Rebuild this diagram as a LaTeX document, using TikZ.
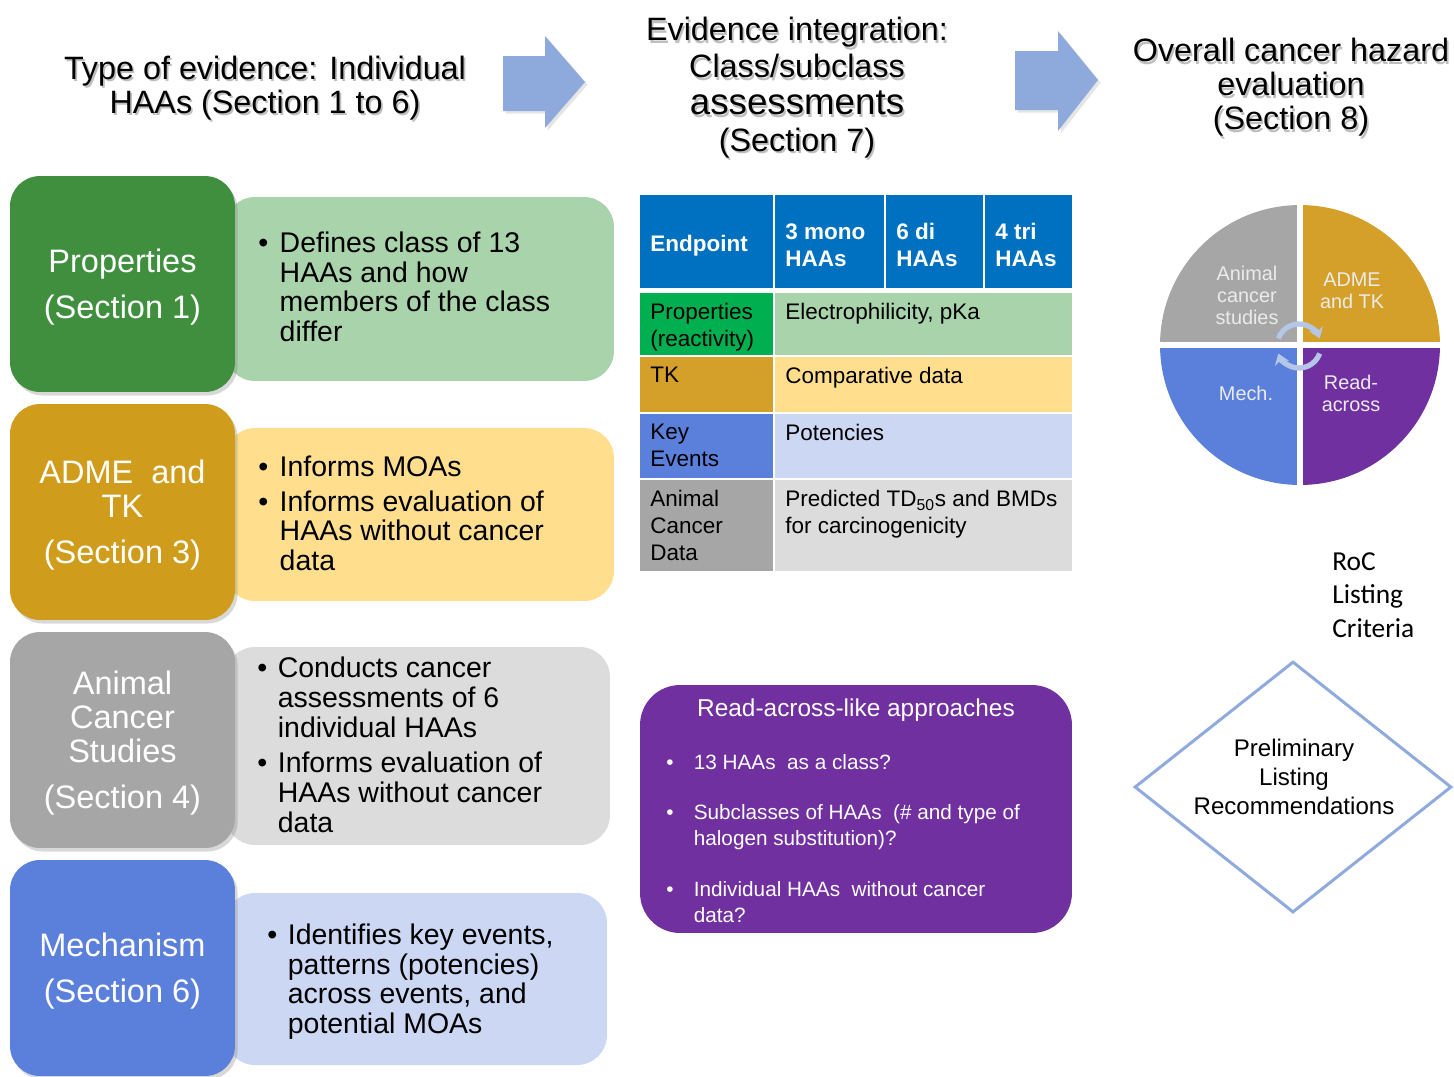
\documentclass[tikz,border=0pt]{standalone}
\usepackage{fontspec}
\setmainfont{Liberation Sans}
\newfontfamily\calibrifont{Carlito}
\usepackage{tikz}
\usetikzlibrary{positioning,shapes.geometric,shadows,arrows.meta}
\definecolor{propdark}{HTML}{3F8F3F}
\definecolor{proplight}{HTML}{A9D3AB}
\definecolor{admedark}{HTML}{D09C1C}
\definecolor{admelight}{HTML}{FFDF8E}
\definecolor{anidark}{HTML}{A6A6A6}
\definecolor{anilight}{HTML}{DCDCDC}
\definecolor{mechdark}{HTML}{5B80DC}
\definecolor{mechlight}{HTML}{CCD7F3}
\definecolor{hdrblue}{HTML}{0070C0}
\definecolor{tabgreen}{HTML}{00B050}
\definecolor{tabgold}{HTML}{D4A02A}
\definecolor{raviolet}{HTML}{7030A0}
\definecolor{arrblue}{HTML}{8EA9DB}
\definecolor{cycblue}{HTML}{B4C7E7}
\definecolor{diablue}{HTML}{8FAADC}
\newcommand{\shd}[1]{\makebox[0pt][l]{\hspace{1pt}\raisebox{-1.4pt}{\textcolor{black!25}{#1}}}#1}
\newcommand{\bul}{\textbullet}

\begin{document}
\begin{tikzpicture}[x=0.02cm, y=-0.02cm,
  darkbox/.style={rounded corners=0.6cm, minimum width=4.5cm, minimum height=4.32cm, drop shadow={shadow xshift=1.5pt, shadow yshift=-2pt, opacity=0.3}},
  darklabel/.style={text=white, align=center, font=\fontsize{18.5}{19.3}\selectfont},
  lightbox/.style={rounded corners=0.6cm},
  bultext/.style={anchor=west, inner sep=0pt, font=\fontsize{16.2}{17}\selectfont},
  heading/.style={align=center, font=\fontsize{18.4}{19.3}\selectfont},
  hdr/.style={anchor=north west, fill=hdrblue, minimum height=1.86cm, inner sep=0pt},
  hdrtext/.style={anchor=west, inner sep=0pt, align=left, text=white, font=\bfseries\fontsize{12.8}{15.3}\selectfont},
  cell/.style={anchor=north west, inner sep=0pt},
  celltext/.style={anchor=north west, inner sep=0pt, align=left, font=\fontsize{12.8}{15.3}\selectfont},
  wedge/.style={text=white!92!black, align=center, font=\fontsize{11.3}{12.5}\selectfont},
  cycarr/.style={cycblue, line width=3pt, -{Stealth[length=6pt,width=8.5pt]}},
  bigarrow/.style={fill=arrblue, drop shadow={shadow xshift=1.5pt, shadow yshift=-1.5pt, opacity=0.2}}
]
\useasboundingbox (0,0) rectangle (1454,1076);
\fill[white] (0,0) rectangle (1454,1076);

% Headings
\node[heading] (evid) at (265,89) {\shd{Type of evidence: Individual}\\\shd{HAAs (Section 1 to 6)}};
\node[heading, font=\fontsize{18.4}{21}\selectfont] (integ) at (797,89) {\shd{Evidence integration:}\\\shd{Class/subclass}\\{\fontsize{20.9}{21}\selectfont\shd{assessments}}\\\shd{(Section 7)}};
\node[heading] (overall) at (1291,88.5) {\shd{Overall cancer hazard}\\\shd{evaluation}\\\shd{(Section 8)}};

% Arrows between stages
\fill[bigarrow] (503,56) -- (545,56) -- (545,36) -- (585,82) -- (545,128) -- (545,111) -- (503,111) -- cycle;
\fill[bigarrow] (1015,51) -- (1058,51) -- (1058,31) -- (1098,80) -- (1058,131) -- (1058,110) -- (1015,110) -- cycle;

% Properties
\node[lightbox, fill=proplight, minimum width=7.78cm, minimum height=3.68cm] (propl) at (419.5,289) {};
\node[darkbox, fill=propdark] (prop) at (122.5,284) {};
\node[darklabel] (propn) at ([yshift=-0.06cm]prop.center) {Properties\\[7pt](Section 1)};
\node[bultext] (propt) at (258,291) {\begin{tabular}{@{}l@{\hspace{6.5pt}}l@{}}\bul & Defines class of 13\\ & HAAs and how\\ & members of the class\\ & differ\end{tabular}};

% ADME and TK
\node[lightbox, fill=admelight, minimum width=7.78cm, minimum height=3.46cm] (admel) at (419.5,514.5) {};
\node[darkbox, fill=admedark] (adme) at (122.5,512) {};
\node[darklabel] (admen) at ([yshift=-0.06cm]adme.center) {ADME\ \ and\\TK\\[7pt](Section 3)};
\node[bultext] (admet) at (258,517.5) {\begin{tabular}{@{}l@{\hspace{6.5pt}}l@{}}\bul & Informs MOAs\\[2.8pt] \bul & Informs evaluation of\\ & HAAs without cancer\\ & data\end{tabular}};

% Animal cancer studies
\node[lightbox, fill=anilight, minimum width=7.7cm, minimum height=3.96cm] (anil) at (417.5,746) {};
\node[darkbox, fill=anidark] (ani) at (122.5,740) {};
\node[darklabel] (anin) at ([yshift=-0.06cm]ani.center) {Animal\\Cancer\\Studies\\[7pt](Section 4)};
\node[bultext] (anit) at (257,749) {\begin{tabular}{@{}l@{\hspace{6pt}}l@{}}\bul & Conducts cancer\\ & assessments of 6\\ & individual HAAs\\[2.8pt] \bul & Informs evaluation of\\ & HAAs without cancer\\ & data\end{tabular}};

% Mechanism
\node[lightbox, fill=mechlight, minimum width=7.64cm, minimum height=3.44cm] (mechl) at (416,979) {};
\node[darkbox, fill=mechdark] (mech) at (122.5,968) {};
\node[darklabel] (mechn) at ([yshift=-0.06cm]mech.center) {Mechanism\\[7pt](Section 6)};
\node[bultext] (mecht) at (267,983) {\begin{tabular}{@{}l@{\hspace{6pt}}l@{}}\bul & Identifies key events,\\ & patterns (potencies)\\ & across events, and\\ & potential MOAs\end{tabular}};

% Endpoint table: header
\foreach \x/\w/\t [count=\i] in {640/133/Endpoint, 775/109/{3 mono\\HAAs}, 886/97/{6 di\\HAAs}, 985/87/{4 tri\\HAAs}} {
  \node[hdr, minimum width=\w*0.02cm] (hd\i) at (\x,195) {};
  \node[hdrtext] (hdt\i) at ([xshift=0.2cm, yshift=-0.07cm]hd\i.west) {\t};
}

% Endpoint table: rows
\foreach \n/\y/\h/\dk/\lt/\lab/\val in {
  1/293/62/tabgreen/proplight/{Properties\\(reactivity)}/{Electrophilicity, pKa},
  2/357/55/tabgold/admelight/TK/{Comparative data},
  3/414/64/mechdark/mechlight/{Key\\Events}/Potencies,
  4/480/91/anidark/anilight/{Animal\\Cancer\\Data}/{Predicted TD\textsubscript{50}s and BMDs\\for carcinogenicity}} {
  \node[cell, fill=\dk, minimum width=2.66cm, minimum height=\h*0.02cm] (ep\n) at (640,\y) {};
  \node[cell, fill=\lt, minimum width=5.94cm, minimum height=\h*0.02cm] (va\n) at (775,\y) {};
  \node[celltext] (ept\n) at ([xshift=0.2cm, yshift=-0.2cm]ep\n.north west) {\lab};
  \node[celltext] (vat\n) at ([xshift=0.2cm, yshift=-0.2cm]va\n.north west) {\val};
}

% Read-across box
\node[rounded corners=0.8cm, fill=raviolet, minimum width=8.64cm, minimum height=4.96cm] (rax) at (856,809) {};
\node[text=white, font=\fontsize{13.9}{16}\selectfont] (raxt) at (856,710) {Read-across-like approaches};
\node[anchor=west, inner sep=0pt, text=white, font=\fontsize{11.8}{14.7}\selectfont] (raxi) at (666,840.5) {\begin{tabular}{@{}l@{\hspace{11.5pt}}l@{}}\bul & 13 HAAs\ \ as a class?\\[14.2pt] \bul & Subclasses of HAAs\ \ (\# and type of\\ & halogen substitution)?\\[14.2pt] \bul & Individual HAAs\ \ without cancer\\ & data?\end{tabular}};

% Hazard wheel
\coordinate (wheel) at (1300,345);
\foreach \c/\a in {anidark/90, tabgold/0, raviolet/-90, mechdark/180}
  \fill[\c] (wheel) -- ++(\a:2.8cm) arc[start angle=\a, end angle=\a+90, radius=2.8cm] -- cycle;
\draw[white, line width=3.4pt] ([yshift=2.9cm]wheel) -- ([yshift=-2.9cm]wheel);
\draw[white, line width=3pt] ([xshift=-2.9cm]wheel) -- ([xshift=2.9cm]wheel);
\node[wedge] (wani) at (1247,295) {Animal\\cancer\\studies};
\node[wedge] (wadme) at (1352,291) {ADME\\and TK};
\node[wedge] (wmech) at (1246,393) {Mech.};
\node[wedge] (wread) at (1351,393) {Read-\\across};
\coordinate (cyc) at (1299,346);
\draw[cycarr] ([shift={(160:0.44cm)}]cyc) arc[start angle=160, end angle=20, radius=0.44cm];
\draw[cycarr] ([shift={(-20:0.44cm)}]cyc) arc[start angle=-20, end angle=-160, radius=0.44cm];

% Listing criteria and recommendations
\node[anchor=west, align=left, inner sep=0pt, font=\calibrifont\fontsize{15.6}{19}\selectfont] (roc) at (1332,595) {RoC\\Listing\\Criteria};
\node[diamond, draw=diablue, line width=1.7pt, minimum width=6.34cm, minimum height=5.02cm, inner sep=0pt] (prelim) at (1293,787) {};
\node[align=center, font=\fontsize{13.7}{16.4}\selectfont] (prelimt) at (1294,777) {Preliminary\\Listing\\Recommendations};
\end{tikzpicture}
\end{document}
